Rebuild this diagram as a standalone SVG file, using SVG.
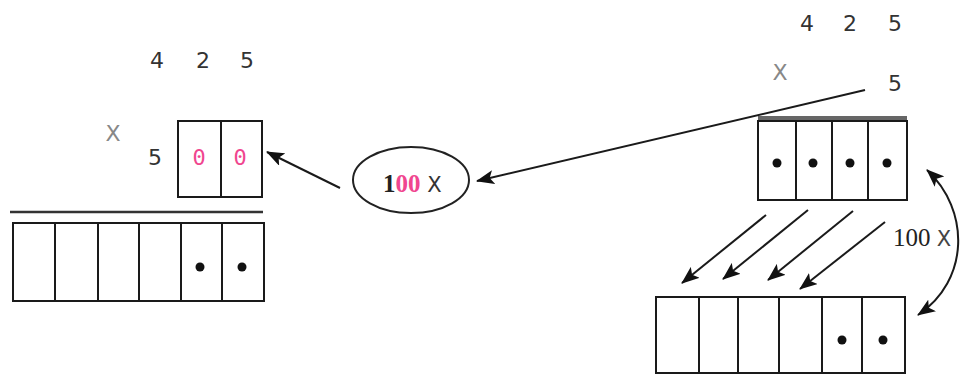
<svg xmlns="http://www.w3.org/2000/svg" width="961" height="381" viewBox="0 0 961 381">
<style>
.box{fill:none;stroke:#1a1a1a;stroke-width:2}
.ln{stroke:#1a1a1a;stroke-width:2;fill:none}
.dig{font-family:"DejaVu Sans",sans-serif;font-size:22px;fill:#333;text-anchor:middle}
.x{font-family:"DejaVu Sans",sans-serif;font-size:22px;fill:#888;text-anchor:middle}
.pink{font-family:"DejaVu Sans Mono",monospace;font-size:22px;fill:#f0468f;text-anchor:middle}
.lbl{font-family:"Liberation Serif",serif;font-size:25px;fill:#222}
.dot{fill:#111}
.arr{stroke:#1a1a1a;stroke-width:2;fill:none;marker-end:url(#ah)}
</style>
<defs>
<marker id="ah" markerUnits="userSpaceOnUse" markerWidth="18" markerHeight="14" refX="17" refY="7" orient="auto">
<path d="M0,0 L18,7 L0,14 L4,7 z" fill="#111"/>
</marker>
<marker id="ahs" markerUnits="userSpaceOnUse" markerWidth="18" markerHeight="14" refX="1" refY="7" orient="auto">
<path d="M18,0 L0,7 L18,14 L14,7 z" fill="#111"/>
</marker>
</defs>

<g id="left-labels">
<text class="dig" x="157" y="68">4</text>
<text class="dig" x="203" y="68">2</text>
<text class="dig" x="247" y="68">5</text>
<text class="x" x="113" y="141">X</text>
<text class="dig" x="155" y="165">5</text>
</g>

<g id="left-small-box">
<rect class="box" x="178" y="121" width="84" height="76"/>
<line class="ln" x1="221" y1="121" x2="221" y2="197"/>
<text class="pink" x="199" y="165">0</text>
<text class="pink" x="240" y="165">0</text>
</g>

<g id="left-rule">
<line x1="10" y1="212" x2="263" y2="212" stroke="#333" stroke-width="2.5"/>
</g>

<g id="left-big-box">
<rect class="box" x="13" y="223" width="251" height="78"/>
<line class="ln" x1="55" y1="223" x2="55" y2="301"/>
<line class="ln" x1="98" y1="223" x2="98" y2="301"/>
<line class="ln" x1="139" y1="223" x2="139" y2="301"/>
<line class="ln" x1="181" y1="223" x2="181" y2="301"/>
<line class="ln" x1="222" y1="223" x2="222" y2="301"/>
<circle class="dot" cx="200" cy="267" r="4.5"/>
<circle class="dot" cx="242" cy="267" r="4.5"/>
</g>

<g id="ellipse-node">
<ellipse cx="411" cy="180" rx="58" ry="33" fill="none" stroke="#222" stroke-width="2"/>
<text class="lbl" x="383" y="192" font-weight="bold"><tspan fill="#222">1</tspan><tspan fill="#f0468f">00</tspan><tspan fill="#333" font-weight="normal" font-family="DejaVu Sans,sans-serif" font-size="21"> X</tspan></text>
</g>

<g id="right-labels">
<text class="dig" x="807" y="31">4</text>
<text class="dig" x="850" y="31">2</text>
<text class="dig" x="895" y="31">5</text>
<text class="x" x="780" y="80">X</text>
<text class="dig" x="895" y="91">5</text>
</g>

<g id="right-top-box">
<line x1="758" y1="118" x2="907" y2="118" stroke="#666" stroke-width="4"/>
<rect class="box" x="758" y="121" width="149" height="79"/>
<line class="ln" x1="796" y1="121" x2="796" y2="200"/>
<line class="ln" x1="832" y1="121" x2="832" y2="200"/>
<line class="ln" x1="868" y1="121" x2="868" y2="200"/>
<circle class="dot" cx="777" cy="163" r="4.5"/>
<circle class="dot" cx="813" cy="163" r="4.5"/>
<circle class="dot" cx="850" cy="163" r="4.5"/>
<circle class="dot" cx="887" cy="163" r="4.5"/>
</g>

<g id="right-bottom-box">
<rect class="box" x="656" y="297" width="249" height="76"/>
<line class="ln" x1="699" y1="297" x2="699" y2="373"/>
<line class="ln" x1="738" y1="297" x2="738" y2="373"/>
<line class="ln" x1="779" y1="297" x2="779" y2="373"/>
<line class="ln" x1="822" y1="297" x2="822" y2="373"/>
<line class="ln" x1="862" y1="297" x2="862" y2="373"/>
<circle class="dot" cx="842" cy="340" r="4.5"/>
<circle class="dot" cx="883" cy="340" r="4.5"/>
</g>

<g id="right-label">
<text class="lbl" x="893" y="246">100 <tspan font-family="DejaVu Sans,sans-serif" font-size="21" fill="#444">X</tspan></text>
</g>

<g id="connectors">
<line class="arr" x1="340" y1="188" x2="267" y2="152"/>
<line class="arr" x1="865" y1="90" x2="477" y2="181"/>
<line class="arr" x1="766" y1="215" x2="682" y2="283"/>
<line class="arr" x1="808" y1="210" x2="723" y2="279"/>
<line class="arr" x1="853" y1="211" x2="768" y2="280"/>
<line class="arr" x1="885" y1="222" x2="800" y2="289"/>
<path d="M 927 170 C 970 210, 970 280, 918 315" class="ln" marker-start="url(#ahs)" marker-end="url(#ah)"/>
</g>
</svg>
